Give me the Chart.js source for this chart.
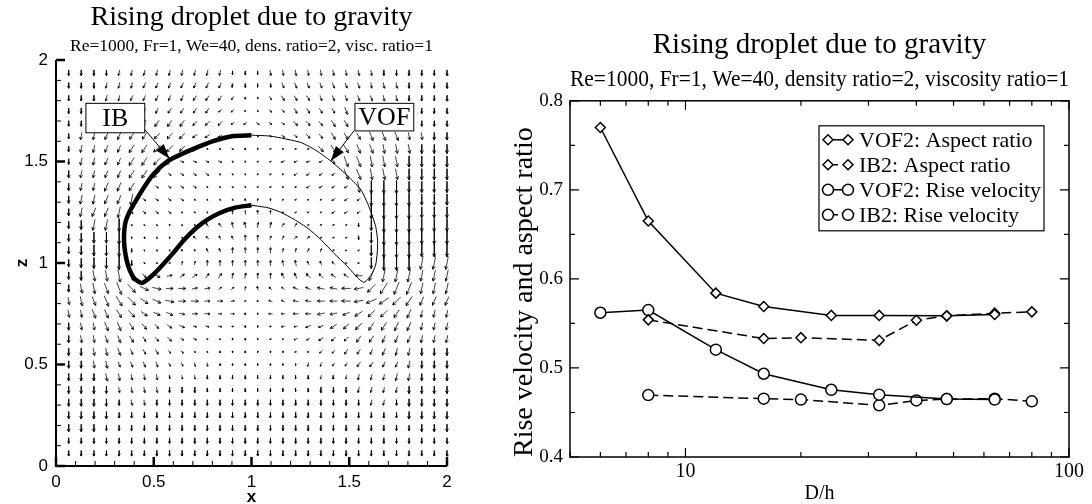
<!DOCTYPE html>
<html>
<head>
<meta charset="utf-8">
<title>Rising droplet due to gravity</title>
<script src="https://cdn.jsdelivr.net/npm/chart.js@4.4.1/dist/chart.umd.min.js"></script>
<style>
  html, body { margin: 0; padding: 0; background: #fff; }
  #wrap { position: relative; width: 1092px; height: 504px; }
  #left { position: absolute; left: 0; top: 0; width: 505px; height: 504px; }
  #right { position: absolute; left: 505px; top: 0; width: 587px; height: 504px; }
</style>
</head>
<body>
<div id="wrap">
  <div id="left"><canvas id="fieldChart"></canvas></div>
  <div id="right"><canvas id="convChart"></canvas></div>
</div>
<script>
// ==========================================
// Data: left panel (velocity field + droplet)
// ==========================================

const GRID_X = [0.065, 0.129, 0.194, 0.258, 0.323, 0.387, 0.452, 0.516, 0.581, 0.645,
  0.710, 0.774, 0.839, 0.903, 0.968, 1.032, 1.097, 1.161, 1.226, 1.290,
  1.355, 1.419, 1.484, 1.548, 1.613, 1.677, 1.742, 1.806, 1.871, 1.935, 2.0];

const GRID_Z = [1.9375, 1.875, 1.8125, 1.75, 1.6875, 1.625, 1.5625, 1.5, 1.4375, 1.375,
  1.3125, 1.25, 1.1875, 1.125, 1.0625, 1.0, 0.9375, 0.875, 0.8125, 0.75,
  0.6875, 0.625, 0.5625, 0.5, 0.4375, 0.375, 0.3125, 0.25, 0.1875, 0.125, 0.0625];

// arrow direction, one base-32 digit per arrow (11.25 deg steps, clockwise from up)
// rows top -> bottom, run-length coded as "digit:count"
const FIELD_DIR = [
  'g:4 h:9 g:3 f:9 g:6',
  'g:3 h:3 i:7 h:1 g:2 f:1 e:7 f:3 g:4',
  'g:3 h:2 i:5 j:4 h:1 f:1 d:4 e:5 f:2 g:4',
  'g:2 h:2 i:4 j:4 k:2 j:1 d:1 c:2 d:4 e:3 f:2 g:4',
  'g:2 h:2 i:3 j:3 k:3 l:2 b:3 c:3 d:3 e:2 f:2 g:3',
  'g:1 h:2 i:2 j:2 k:3 l:2 m:3 a:2 b:2 c:2 d:3 e:3 f:2 g:2',
  'g:1 h:2 i:2 j:2 k:4 a:3 g:2 m:4 c:1 d:2 e:2 f:3 g:3',
  'g:1 h:2 i:2 j:2 k:2 a:4 b:2 l:2 m:4 d:1 e:2 f:3 g:4',
  'g:1 h:2 i:2 j:2 k:1 b:7 l:7 e:2 f:3 g:4',
  'g:1 h:2 i:2 j:2 b:8 l:8 f:1 g:7',
  'g:1 h:2 i:2 h:1 b:4 c:4 g:3 k:4 l:3 g:7',
  'g:1 h:1 i:2 h:1 b:4 c:4 0:4 k:4 l:3 g:7',
  'g:2 h:2 g:1 c:3 e:3 t:2 v:2 1:2 3:2 4:4 g:8',
  'g:5 e:5 s:2 u:2 0:2 2:2 4:5 g:8',
  'g:6 c:3 s:2 u:2 0:4 1:2 2:2 4:1 k:2 g:7',
  'g:6 a:2 4:1 1:2 0:6 v:2 u:2 s:1 q:1 o:1 g:4 h:3',
  'g:2 f:3 e:1 c:1 a:1 7:1 5:2 3:2 1:2 0:2 u:2 s:2 r:2 o:1 i:1 h:6',
  'g:1 f:2 e:2 c:1 a:1 9:1 8:2 7:2 4:2 1:1 v:1 s:2 q:2 p:2 o:1 n:1 k:1 j:1 i:2 h:3',
  'f:2 e:2 d:1 c:1 b:1 a:1 9:1 8:4 7:1 4:1 s:1 q:2 p:2 o:3 n:1 m:1 l:1 k:1 j:1 i:3',
  'f:2 e:2 d:1 c:1 b:1 a:2 9:1 8:4 g:2 o:4 n:2 m:1 l:1 k:2 j:1 i:1 h:3',
  'g:1 f:2 e:2 d:1 c:2 b:1 a:1 9:3 8:1 g:2 o:1 n:2 m:2 l:1 k:2 j:2 i:2 h:3',
  'g:1 f:2 e:2 d:2 c:2 b:1 a:3 g:3 m:3 l:2 k:2 j:2 i:3 h:3',
  'g:2 f:2 e:2 d:2 c:2 b:2 g:6 l:2 k:2 j:2 i:2 h:2 g:3',
  'g:2 f:2 e:4 d:2 f:2 g:7 h:2 j:4 i:2 h:1 g:3',
  'g:3 f:8 g:9 h:8 g:3',
  'g:4 f:4 g:15 h:4 g:4',
  'g:5 f:2 g:17 h:2 g:5',
  'g:31',
  'g:31',
  'g:31',
  'g:31'
];

// arrow length steps, same layout as FIELD_DIR
const FIELD_MAG = [
  '3:13 2:3 3:15',
  '3:13 2:4 3:14',
  '3:13 2:1 1:2 2:1 3:14',
  '3:12 2:2 1:2 2:2 3:4 4:5 3:4',
  '3:2 4:8 3:3 2:5 3:3 4:7 3:3',
  '3:1 4:9 3:2 2:2 1:3 2:2 3:2 4:3 5:3 4:4',
  '3:1 4:4 5:4 4:2 1:9 4:1 5:10',
  '3:1 4:4 5:4 2:4 1:4 2:4 3:1 6:9',
  '4:5 5:3 2:4 1:6 2:4 6:9',
  '4:3 5:4 2:4 1:8 2:4 6:1 7:3 6:4',
  '4:1 5:4 6:1 2:4 1:11 2:3 7:4 6:3',
  '4:1 5:3 6:1 2:4 1:4 2:4 1:4 2:3 7:4 6:3',
  '4:1 5:1 6:2 7:1 1:6 2:2 3:4 2:2 1:4 2:1 6:1 8:3 7:3',
  '4:1 5:1 6:2 7:1 1:5 2:4 3:2 2:4 1:3 2:1 6:1 8:3 7:3',
  '4:1 5:1 6:2 7:1 2:1 1:5 2:2 3:4 2:4 1:3 6:1 8:3 7:3',
  '4:1 5:1 6:2 7:1 3:1 1:3 2:2 3:8 2:3 1:2 6:1 8:3 7:3',
  '4:1 5:1 6:2 7:1 6:1 3:1 4:1 3:15 4:1 6:1 7:3 6:3',
  '4:1 5:1 6:2 7:1 6:1 5:2 4:2 3:2 2:6 3:2 4:2 5:2 6:1 7:3 6:3',
  '4:1 5:2 6:3 5:3 4:2 3:2 2:1 1:2 2:2 3:2 4:2 5:2 6:4 5:3',
  '4:2 5:4 4:3 3:3 2:2 1:2 2:2 3:2 4:3 5:5 4:3',
  '4:3 5:2 4:2 3:3 2:3 1:4 2:2 3:2 4:2 5:5 4:3',
  '4:6 3:3 2:2 1:7 2:2 3:3 4:8',
  '4:5 3:3 2:2 1:10 2:2 3:3 4:6',
  '4:4 3:4 2:4 1:7 2:4 3:4 4:4',
  '4:5 3:3 2:15 3:3 4:5',
  '4:4 3:7 2:9 3:7 4:4',
  '4:4 3:23 4:4',
  '4:4 3:23 4:4',
  '4:3 3:25 4:3',
  '3:31',
  '3:31'
];

// droplet interface: IB (left half), VOF (right half)
const IB_X = [1.0, 0.9, 0.8, 0.74, 0.65, 0.573, 0.5, 0.454, 0.41, 0.375, 0.355, 0.348, 0.35,
  0.36, 0.375, 0.40, 0.437, 0.47, 0.51, 0.539, 0.6, 0.657, 0.72, 0.777, 0.84, 0.912, 1.0];
const IB_Z = [1.63, 1.625, 1.60, 1.577, 1.54, 1.503, 1.44, 1.379, 1.31, 1.25, 1.2, 1.14, 1.08,
  1.02, 0.97, 0.925, 0.902, 0.92, 0.955, 0.984, 1.05, 1.116, 1.175, 1.215, 1.248, 1.272, 1.285];
const VOF_X = [1.0, 1.1, 1.252, 1.33, 1.405, 1.48, 1.558, 1.60, 1.635, 1.645, 1.643, 1.635,
  1.618, 1.60, 1.575, 1.545, 1.49, 1.42, 1.354, 1.29, 1.218, 1.15, 1.086, 1.0];
const VOF_Z = [1.63, 1.625, 1.594, 1.555, 1.503, 1.44, 1.363, 1.28, 1.181, 1.11, 1.049, 0.99,
  0.951, 0.925, 0.905, 0.925, 0.984, 1.05, 1.116, 1.17, 1.215, 1.25, 1.272, 1.285];

const FIELD_TICKS = [0, 0.5, 1, 1.5, 2];
const FIELD_MINOR_TICKS = [0.1, 0.2, 0.3, 0.4, 0.6, 0.7, 0.8, 0.9, 1.1, 1.2, 1.3, 1.4, 1.6, 1.7, 1.8, 1.9];

// ==========================================
// Data: right panel (grid convergence)
// ==========================================

const X_VOF2 = [6, 8, 12, 16, 24, 32, 48, 64];
const VOF2_ASPECT = [0.770, 0.665, 0.584, 0.569, 0.559, 0.559, 0.5585, 0.560];
const VOF2_RISE = [0.562, 0.565, 0.5205, 0.4935, 0.4755, 0.470, 0.465, 0.4645];

const X_IB2 = [8, 16, 20, 32, 40, 48, 64, 80];
const IB2_ASPECT = [0.554, 0.533, 0.534, 0.531, 0.5535, 0.5585, 0.5615, 0.563];
const IB2_RISE = [0.4695, 0.4655, 0.4645, 0.458, 0.4635, 0.465, 0.4655, 0.4625];

const X_TICK_LABELS = [10, 100];
const X_MINOR_TICKS = [5, 6, 7, 8, 9, 20, 30, 40, 50, 60, 70, 80, 90];
const Y_TICK_LABELS = [0.4, 0.5, 0.6, 0.7, 0.8];
const Y_MINOR_TICKS = [0.45, 0.55, 0.65, 0.75];

// ==========================================
// Helpers
// ==========================================

const SERIF = "'Liberation Serif', 'Times New Roman', serif";
const SANS = "'Liberation Sans', Arial, sans-serif";
const ARROW_UNIT = 0.009;

const pts = (xs, ys) => xs.map((x, i) => ({ x, y: ys[i] }));

const decodeRow = (row) => row.split(' ').flatMap(t => {
  const [v, n] = t.split(':');
  return Array(+n).fill(v);
});

// every arrow becomes one polyline: tail -> tip -> barb -> tip -> barb, then a gap
function buildArrows() {
  const path = [];
  const barbAngle = 28 * Math.PI / 180;
  FIELD_DIR.forEach((dirRow, r) => {
    const dirs = decodeRow(dirRow);
    const mags = decodeRow(FIELD_MAG[r]);
    dirs.forEach((d, c) => {
      const m = +mags[c];
      if (!m || GRID_X[c] === undefined) return;
      const rad = parseInt(d, 32) * 11.25 * Math.PI / 180;
      const len = m * ARROW_UNIT;
      const ux = Math.sin(rad), uz = Math.cos(rad);
      const x = GRID_X[c], z = GRID_Z[r];
      const tip = { x: x + ux * len / 2, y: z + uz * len / 2 };
      const b = Math.max(0.006, Math.min(0.4 * len, 0.016));
      const barb = (s) => ({
        x: tip.x - b * (ux * Math.cos(barbAngle) - s * uz * Math.sin(barbAngle)),
        y: tip.y - b * (uz * Math.cos(barbAngle) + s * ux * Math.sin(barbAngle))
      });
      path.push({ x: x - ux * len / 2, y: z - uz * len / 2 }, tip, barb(1), tip, barb(-1), { x: tip.x, y: null });
    });
  });
  return path;
}

function drawArrowHead(ctx, x0, y0, x1, y1, len, half) {
  const a = Math.atan2(y1 - y0, x1 - x0);
  ctx.beginPath();
  ctx.moveTo(x1, y1);
  ctx.lineTo(x1 - len * Math.cos(a) + half * Math.sin(a), y1 - len * Math.sin(a) - half * Math.cos(a));
  ctx.lineTo(x1 - len * Math.cos(a) - half * Math.sin(a), y1 - len * Math.sin(a) + half * Math.cos(a));
  ctx.closePath();
  ctx.fill();
}

// ==========================================
// Left panel plugins
// ==========================================

const fieldAxesPlugin = {
  id: 'fieldAxes',
  afterDraw(chart) {
    const { ctx, chartArea: a, scales: { x, y } } = chart;
    ctx.save();
    ctx.strokeStyle = '#000';
    ctx.lineWidth = 2;
    ctx.beginPath();
    ctx.moveTo(a.left, a.top);
    ctx.lineTo(a.left, a.bottom);
    ctx.lineTo(a.right, a.bottom);
    ctx.stroke();

    const tick = (list, len, width) => {
      ctx.lineWidth = width;
      list.forEach(v => {
        const px = x.getPixelForValue(v);
        const py = y.getPixelForValue(v);
        ctx.beginPath();
        ctx.moveTo(px, a.bottom); ctx.lineTo(px, a.bottom - len);
        ctx.moveTo(a.left, py); ctx.lineTo(a.left + len, py);
        ctx.stroke();
      });
    };
    tick(FIELD_MINOR_TICKS, 5, 1);
    tick(FIELD_TICKS, 9, 2.5);
    ctx.restore();
  },
  afterDatasetsDraw(chart) {
    const { ctx, scales: { x, y } } = chart;
    const labels = [
      { text: 'IB', box: [0.153, 1.787, 0.454, 1.642], from: [0.454, 1.658], to: [0.581, 1.514] },
      { text: 'VOF', box: [1.529, 1.787, 1.830, 1.651], from: [1.524, 1.651], to: [1.405, 1.503] }
    ];
    ctx.save();
    labels.forEach(l => {
      const x0 = x.getPixelForValue(l.box[0]), y0 = y.getPixelForValue(l.box[1]);
      const x1 = x.getPixelForValue(l.box[2]), y1 = y.getPixelForValue(l.box[3]);
      ctx.fillStyle = '#fff';
      ctx.fillRect(x0, y0, x1 - x0, y1 - y0);
      ctx.strokeStyle = '#000';
      ctx.lineWidth = 1;
      ctx.strokeRect(x0, y0, x1 - x0, y1 - y0);
      ctx.fillStyle = '#000';
      ctx.font = `26px ${SERIF}`;
      ctx.textAlign = 'center';
      ctx.textBaseline = 'middle';
      ctx.fillText(l.text, (x0 + x1) / 2, (y0 + y1) / 2 + 1);

      const ax = x.getPixelForValue(l.from[0]), ay = y.getPixelForValue(l.from[1]);
      const bx = x.getPixelForValue(l.to[0]), by = y.getPixelForValue(l.to[1]);
      ctx.beginPath();
      ctx.moveTo(ax, ay); ctx.lineTo(bx, by);
      ctx.stroke();
      drawArrowHead(ctx, ax, ay, bx, by, 15, 5);
    });
    ctx.restore();
  }
};

// ==========================================
// Right panel plugins
// ==========================================

const frameTicksPlugin = {
  id: 'frameTicks',
  afterDraw(chart) {
    const { ctx, chartArea: a, scales: { x, y } } = chart;
    ctx.save();
    ctx.strokeStyle = '#000';
    ctx.lineWidth = 1.5;
    ctx.strokeRect(a.left, a.top, a.right - a.left, a.bottom - a.top);
    ctx.lineWidth = 1.2;
    const xt = (list, len) => list.forEach(v => {
      const px = x.getPixelForValue(v);
      ctx.beginPath();
      ctx.moveTo(px, a.bottom); ctx.lineTo(px, a.bottom - len);
      ctx.moveTo(px, a.top); ctx.lineTo(px, a.top + len);
      ctx.stroke();
    });
    const yt = (list, len) => list.forEach(v => {
      const py = y.getPixelForValue(v);
      ctx.beginPath();
      ctx.moveTo(a.left, py); ctx.lineTo(a.left + len, py);
      ctx.moveTo(a.right, py); ctx.lineTo(a.right - len, py);
      ctx.stroke();
    });
    xt(X_MINOR_TICKS, 5);
    xt(X_TICK_LABELS, 9);
    yt(Y_MINOR_TICKS, 5);
    yt(Y_TICK_LABELS, 9);
    ctx.restore();
  }
};

function drawMarker(ctx, style, px, py, r) {
  ctx.beginPath();
  if (style === 'circle') {
    ctx.arc(px, py, r, 0, Math.PI * 2);
  } else {
    ctx.moveTo(px, py - r); ctx.lineTo(px + r, py);
    ctx.lineTo(px, py + r); ctx.lineTo(px - r, py);
    ctx.closePath();
  }
  ctx.fill();
  ctx.stroke();
}

const legendBoxPlugin = {
  id: 'legendBox',
  afterDraw(chart) {
    const { ctx, chartArea: a } = chart;
    const left = a.left + 249, top = a.top + 25, w = 225, h = 105;
    ctx.save();
    ctx.fillStyle = '#fff';
    ctx.fillRect(left, top, w, h);
    ctx.strokeStyle = '#000';
    ctx.lineWidth = 1.2;
    ctx.strokeRect(left, top, w, h);
    chart.data.datasets.forEach((ds, i) => {
      const yy = top + 14 + i * 25;
      ctx.strokeStyle = '#000';
      ctx.lineWidth = ds.borderWidth;
      ctx.setLineDash(ds.borderDash || []);
      ctx.beginPath();
      ctx.moveTo(left + 9, yy); ctx.lineTo(left + 29, yy);
      ctx.stroke();
      ctx.setLineDash([]);
      ctx.fillStyle = '#fff';
      ctx.lineWidth = ds.pointBorderWidth;
      drawMarker(ctx, ds.pointStyle, left + 9, yy, ds.pointRadius);
      drawMarker(ctx, ds.pointStyle, left + 29, yy, ds.pointRadius);
      ctx.fillStyle = '#000';
      ctx.font = `22px ${SERIF}`;
      ctx.textAlign = 'left';
      ctx.textBaseline = 'middle';
      ctx.fillText(ds.label, left + 40, yy + 1);
    });
    ctx.restore();
  }
};

// ==========================================
// Charts
// ==========================================

const arrowPath = buildArrows();

new Chart(document.getElementById('fieldChart'), {
  type: 'scatter',
  data: {
    datasets: [
      { label: 'IB', data: pts(IB_X, IB_Z), showLine: true, borderColor: '#000', borderWidth: 4.5,
        pointRadius: 0, tension: 0.25, order: 0 },
      { label: 'VOF', data: pts(VOF_X, VOF_Z), showLine: true, borderColor: '#000', borderWidth: 1,
        pointRadius: 0, tension: 0.2, order: 0 },
      { label: 'velocity', data: arrowPath, showLine: true, spanGaps: false, borderColor: '#000',
        borderWidth: 0.75, borderJoinStyle: 'round', borderCapStyle: 'round',
        pointRadius: 0, clip: 8, order: 1 }
    ]
  },
  options: {
    responsive: true,
    maintainAspectRatio: false,
    animation: false,
    events: [],
    layout: { padding: { top: 1, right: 58, bottom: 0, left: 0 } },
    plugins: {
      legend: { display: false },
      tooltip: { enabled: false },
      title: {
        display: true, text: 'Rising droplet due to gravity', fullSize: false, color: '#000',
        font: { family: SERIF, size: 28, weight: 'normal', lineHeight: 1.2 },
        padding: { top: 0, bottom: 1.5 }
      },
      subtitle: {
        display: true, text: 'Re=1000, Fr=1, We=40, dens. ratio=2, visc. ratio=1', fullSize: false,
        color: '#000', font: { family: SERIF, size: 17.5, lineHeight: 1.2 },
        padding: { top: 0, bottom: 3 }
      }
    },
    scales: {
      x: {
        type: 'linear', min: 0, max: 2,
        afterFit: s => { s.height = 38; },
        afterBuildTicks: s => { s.ticks = FIELD_TICKS.map(v => ({ value: v })); },
        grid: { display: false, drawTicks: false },
        border: { display: false },
        ticks: { callback: v => String(v), color: '#000', font: { family: SANS, size: 17 },
          padding: 6, maxRotation: 0, autoSkip: false },
        title: { display: true, text: 'x', color: '#000',
          font: { family: SANS, size: 17, weight: 'bold', lineHeight: 0.8 }, padding: 0 }
      },
      y: {
        type: 'linear', min: 0, max: 2,
        afterFit: s => { s.width = 56; },
        afterBuildTicks: s => { s.ticks = FIELD_TICKS.map(v => ({ value: v })); },
        grid: { display: false, drawTicks: false },
        border: { display: false },
        ticks: { callback: v => String(v), color: '#000', font: { family: SANS, size: 17 },
          padding: 8, autoSkip: false },
        title: { display: true, text: 'z', color: '#000',
          font: { family: SANS, size: 17, weight: 'bold', lineHeight: 1.2 }, padding: { top: 12, bottom: 0 } }
      }
    }
  },
  plugins: [fieldAxesPlugin]
});

const seriesStyle = (label, xs, ys, marker, dashed) => ({
  label,
  data: pts(xs, ys),
  showLine: true,
  borderColor: '#000',
  borderWidth: 1.5,
  borderDash: dashed ? [10, 5] : [],
  pointStyle: marker,
  pointRadius: marker === 'circle' ? 5.5 : 5,
  pointBackgroundColor: '#fff',
  pointBorderColor: '#000',
  pointBorderWidth: 1.5,
  tension: 0
});

new Chart(document.getElementById('convChart'), {
  type: 'scatter',
  data: {
    datasets: [
      seriesStyle('VOF2: Aspect ratio', X_VOF2, VOF2_ASPECT, 'rectRot', false),
      seriesStyle('IB2: Aspect ratio', X_IB2, IB2_ASPECT, 'rectRot', true),
      seriesStyle('VOF2: Rise velocity', X_VOF2, VOF2_RISE, 'circle', false),
      seriesStyle('IB2: Rise velocity', X_IB2, IB2_RISE, 'circle', true)
    ]
  },
  options: {
    responsive: true,
    maintainAspectRatio: false,
    animation: false,
    events: [],
    layout: { padding: { top: 28, right: 23, bottom: 0, left: 0 } },
    plugins: {
      legend: { display: false },
      tooltip: { enabled: false },
      title: {
        display: true, text: 'Rising droplet due to gravity', fullSize: false, color: '#000',
        font: { family: SERIF, size: 29, weight: 'normal', lineHeight: 1.2 },
        padding: { top: 0, bottom: 4 }
      },
      subtitle: {
        display: true, text: 'Re=1000, Fr=1, We=40, density ratio=2, viscosity ratio=1', fullSize: false,
        color: '#000', font: { family: SERIF, size: 22.5, lineHeight: 1.2 },
        padding: { top: 0, bottom: 7 }
      }
    },
    scales: {
      x: {
        type: 'logarithmic', min: 5, max: 100,
        afterFit: s => { s.height = 47; },
        afterBuildTicks: s => {
          s.ticks = [...X_MINOR_TICKS, ...X_TICK_LABELS].sort((p, q) => p - q).map(v => ({ value: v }));
        },
        grid: { display: false, drawTicks: false },
        border: { display: false },
        ticks: { callback: v => (X_TICK_LABELS.includes(v) ? String(v) : ''), color: '#000',
          font: { family: SERIF, size: 20 }, padding: 3, maxRotation: 0, autoSkip: false },
        title: { display: true, text: 'D/h', color: '#000',
          font: { family: SERIF, size: 20, lineHeight: 1.0 }, padding: 0 }
      },
      y: {
        type: 'linear', min: 0.4, max: 0.8,
        afterFit: s => { s.width = 65; },
        afterBuildTicks: s => { s.ticks = Y_TICK_LABELS.map(v => ({ value: v })); },
        grid: { display: false, drawTicks: false },
        border: { display: false },
        ticks: { callback: v => v.toFixed(1), color: '#000', font: { family: SERIF, size: 19 },
          padding: 7, autoSkip: false },
        title: { display: true, text: 'Rise velocity and aspect ratio', color: '#000', align: 'start',
          font: { family: SERIF, size: 28, lineHeight: 1.2 }, padding: { top: 3, bottom: 0 } }
      }
    }
  },
  plugins: [frameTicksPlugin, legendBoxPlugin]
});
</script>
</body>
</html>
